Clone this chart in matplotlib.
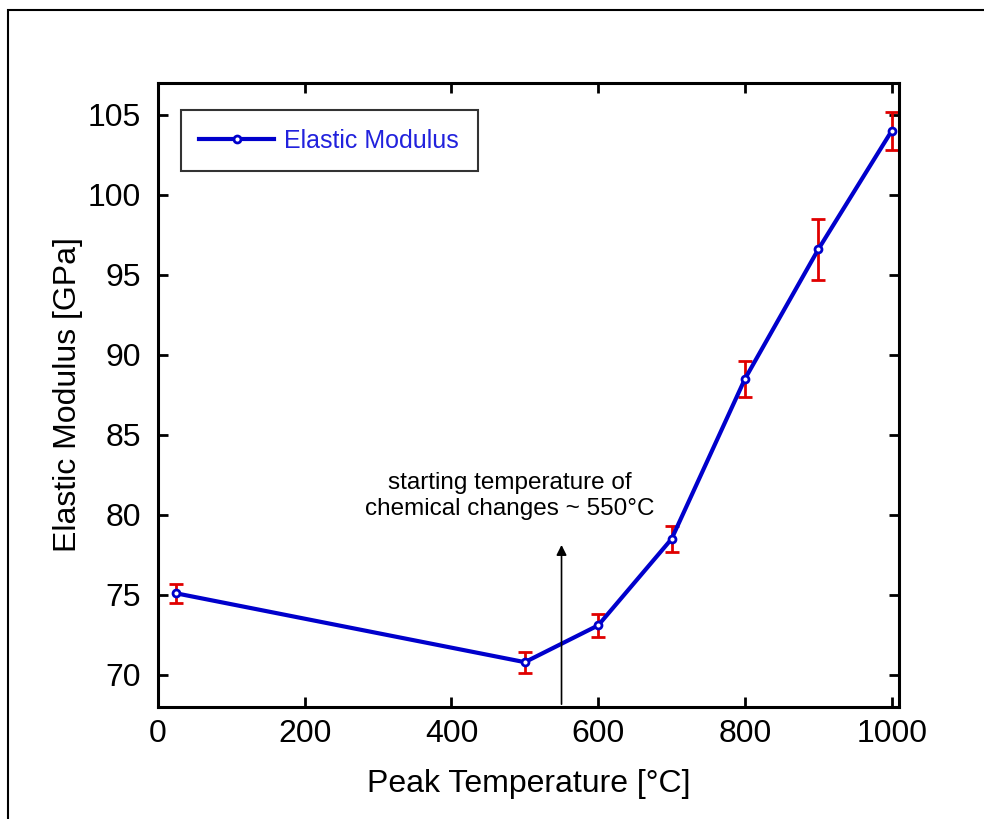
import matplotlib
matplotlib.use("Agg")
import matplotlib.pyplot as plt
from matplotlib.patches import Rectangle

plt.rcParams['font.family'] = ['Liberation Sans', 'DejaVu Sans']

# peak temperature [°C] vs elastic modulus [GPa]
temperature = [25, 500, 600, 700, 800, 900, 1000]
modulus = [75.1, 70.8, 73.1, 78.5, 88.5, 96.6, 104.0]
modulus_err = [0.6, 0.65, 0.7, 0.8, 1.1, 1.9, 1.2]

x_ticks = [0, 200, 400, 600, 800, 1000]
y_ticks = [70, 75, 80, 85, 90, 95, 100, 105]

fig = plt.figure(figsize=(9.84, 8.19), dpi=100)
ax = fig.add_axes([0.1606, 0.1368, 0.7530, 0.7619])

# outer frame around the figure
fig.patches.append(Rectangle((8 / 984, -0.1), 2.0, 1.1 - 10 / 819,
                             transform=fig.transFigure, fill=False,
                             edgecolor='black', linewidth=1.5))

ax.errorbar(temperature, modulus, yerr=modulus_err, fmt='none',
            ecolor='#e00000', elinewidth=2, capsize=5, capthick=2, zorder=2)
ax.plot(temperature, modulus, color='#0000cc', linewidth=3, marker='o',
        markersize=5, markerfacecolor='white', markeredgewidth=2,
        label='Elastic Modulus', zorder=3)

ax.annotate('', xy=(550, 78.3), xytext=(550, 68),
            arrowprops=dict(arrowstyle='-|>', color='black', lw=1.2,
                            mutation_scale=15))
ax.text(480, 81.2, 'starting temperature of\nchemical changes ~ 550°C',
        ha='center', va='center', fontsize=17.5, linespacing=1.25)

ax.set_xlim(0, 1010)
ax.set_ylim(68, 107)
ax.set_xticks(x_ticks)
ax.set_yticks(y_ticks)
ax.tick_params(direction='in', length=7, width=2, labelsize=23,
               top=True, right=True)
ax.tick_params(axis='y', pad=12)
ax.tick_params(axis='x', pad=9)
for s in ax.spines.values():
    s.set_linewidth(2.2)

ax.set_xlabel('Peak Temperature [°C]', fontsize=23, labelpad=14)
ax.set_ylabel('Elastic Modulus [GPa]', fontsize=23, labelpad=4)

leg = ax.legend(loc='upper left', fontsize=18, frameon=True, fancybox=False,
                handlelength=3.0, borderpad=0.75, handletextpad=0.4,
                bbox_to_anchor=(0.0137, 0.977))
leg.get_frame().set_edgecolor('black')
leg.get_frame().set_linewidth(1.5)
for t in leg.get_texts():
    t.set_color('#2222dd')

fig.savefig('out.png', dpi=100)
